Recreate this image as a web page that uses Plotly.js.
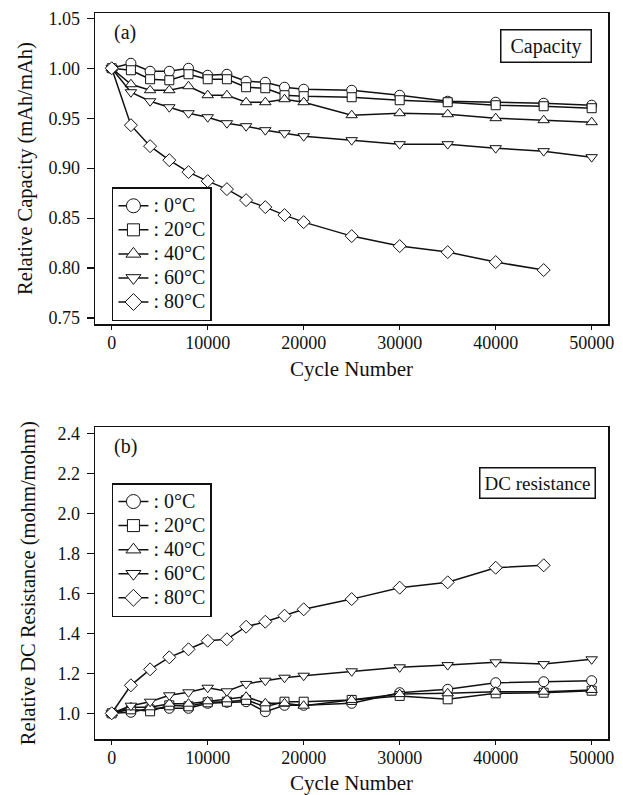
<!DOCTYPE html>
<html>
<head>
<meta charset="utf-8">
<script src="https://cdn.plot.ly/plotly-3.0.1.min.js"></script>
<style>html,body{margin:0;padding:0;background:#fff;}#chart{width:623px;height:795px;}</style>
</head>
<body>
<div id="chart"></div>
<script>
// ---- data ----
const cycles = [0,2000,4000,6000,8000,10000,12000,14000,16000,18000,20000,25000,30000,35000,40000,45000,50000];
const seriesNames = [': 0°C', ': 20°C', ': 40°C', ': 60°C', ': 80°C'];
const symbols = ['circle', 'square', 'triangle-up', 'triangle-down', 'diamond'];

// (a) relative capacity
const cap0  = [1.000,1.005,0.997,0.997,1.000,0.993,0.994,0.987,0.986,0.981,0.979,0.978,0.973,0.967,0.966,0.965,0.963];
const cap20 = [1.000,0.998,0.989,0.988,0.994,0.989,0.989,0.981,0.980,0.973,0.972,0.971,0.968,0.966,0.963,0.962,0.960];
const cap40 = [1.000,0.984,0.978,0.978,0.982,0.973,0.973,0.966,0.966,0.969,0.966,0.953,0.955,0.954,0.950,0.948,0.946];
const cap60 = [1.000,0.976,0.967,0.961,0.955,0.951,0.945,0.942,0.938,0.935,0.932,0.928,0.924,0.924,0.920,0.917,0.911];
const cap80 = [1.000,0.943,0.922,0.908,0.896,0.887,0.879,0.868,0.861,0.853,0.846,0.832,0.822,0.816,0.806,0.798];

// (b) relative DC resistance
const res0  = [1.000,1.005,1.025,1.025,1.025,1.050,1.055,1.058,1.008,1.040,1.040,1.050,1.103,1.120,1.153,1.158,1.163];
const res20 = [1.000,1.020,1.010,1.040,1.035,1.055,1.058,1.067,1.033,1.058,1.058,1.067,1.087,1.070,1.100,1.103,1.113];
const res40 = [1.000,1.030,1.030,1.048,1.048,1.060,1.070,1.083,1.050,1.050,1.038,1.067,1.096,1.100,1.108,1.108,1.117];
const res60 = [1.000,1.038,1.058,1.090,1.105,1.128,1.110,1.147,1.163,1.178,1.188,1.210,1.230,1.241,1.255,1.246,1.270];
const res80 = [1.000,1.140,1.220,1.280,1.320,1.363,1.370,1.433,1.458,1.488,1.520,1.571,1.628,1.655,1.728,1.740];

const xTicks = [0,10000,20000,30000,40000,50000];

// ---- styling ----
const FONT = 'Liberation Serif, Times New Roman, serif';
const markerSizes = [10, 9, 10, 10, 10];
const legendSizes = [14, 12, 13, 13, 13];

const capSeries = [cap0, cap20, cap40, cap60, cap80];
const resSeries = [res0, res20, res40, res60, res80];

const traces = [];
function addPanel(series, xa, ya, legendId) {
  series.forEach((vals, i) => {
    traces.push({
      x: cycles.slice(0, vals.length), y: vals, xaxis: xa, yaxis: ya,
      mode: 'lines+markers', type: 'scatter', showlegend: false,
      line: {color: '#111', width: 1.5},
      marker: {symbol: symbols[i], size: markerSizes[i], color: '#fff', line: {color: '#111', width: 1}}
    });
  });
  // legend entries (larger legend symbols)
  series.forEach((vals, i) => {
    traces.push({
      x: [null], y: [null], xaxis: xa, yaxis: ya,
      name: '<span style="font-size:20px">' + seriesNames[i] + '</span>',
      mode: 'lines+markers', type: 'scatter', showlegend: true, legend: legendId,
      line: {color: '#111', width: 1.5},
      marker: {symbol: symbols[i], size: legendSizes[i], color: '#fff', line: {color: '#111', width: 1}}
    });
  });
}
addPanel(capSeries, 'x', 'y', 'legend');
addPanel(resSeries, 'x2', 'y2', 'legend2');

const xRange = [-1740, 51700];
const topDom = [0.5716, 1];
const botDom = [0, 0.4293];

function xAxis(anchor) {
  return {
    anchor: anchor, domain: [0, 1], range: xRange, tickvals: xTicks, ticktext: xTicks.map(String),
    ticks: 'outside', ticklen: 4, tickwidth: 1.2, tickcolor: '#111',
    showline: true, linecolor: '#111', linewidth: 1.5, mirror: true,
    showgrid: false, zeroline: false,
    tickfont: {family: FONT, size: 18, color: '#111'}, ticklabelstandoff: -2,
    title: {text: 'Cycle Number', font: {family: FONT, size: 21, color: '#111'}, standoff: 9}
  };
}
function innerX(over, anchor) {
  return {overlaying: over, anchor: anchor, range: xRange, tickvals: xTicks, ticks: 'inside', ticklen: 5,
    tickwidth: 1.2, tickcolor: '#111', showticklabels: false, showline: false, showgrid: false, zeroline: false};
}
function innerY(over, anchor, range, dtick, tick0) {
  return {overlaying: over, anchor: anchor, side: 'left', range: range, dtick: dtick, tick0: tick0, ticks: 'inside', ticklen: 4,
    tickwidth: 1.2, tickcolor: '#111', showticklabels: false, showline: false, showgrid: false, zeroline: false};
}

const capRange = [0.744, 1.0553];
const resRange = [0.8715, 2.43];

const legendBase = {
  xanchor: 'left', yanchor: 'top', xref: 'paper', yref: 'paper',
  bgcolor: '#fff', bordercolor: '#111', borderwidth: 1.5,
  font: {family: FONT, size: 16.2, color: '#111'}, tracegroupgap: 0, itemwidth: 30
};

const layout = {
  width: 623, height: 795,
  margin: {l: 95, r: 15, t: 13, b: 56},
  paper_bgcolor: '#fff', plot_bgcolor: '#fff',
  font: {family: FONT, color: '#111'},
  xaxis: xAxis('y'),
  xaxis2: xAxis('y2'),
  xaxis3: innerX('x', 'y'),
  xaxis4: innerX('x2', 'y2'),
  yaxis: {
    domain: topDom, anchor: 'x', range: capRange, dtick: 0.05, tick0: 0.75, tickformat: '.2f',
    ticks: 'outside', ticklen: 7, tickwidth: 1.2, tickcolor: '#111',
    showline: true, linecolor: '#111', linewidth: 1.5, mirror: true, showgrid: false, zeroline: false,
    tickfont: {family: FONT, size: 18, color: '#111'}, ticklabelstandoff: 3,
    title: {text: 'Relative Capacity (mAh/mAh)', font: {family: FONT, size: 20.5, color: '#111'}, standoff: 10}
  },
  yaxis2: {
    domain: botDom, anchor: 'x2', range: resRange, dtick: 0.2, tick0: 1.0, tickformat: '.1f',
    ticks: 'outside', ticklen: 7, tickwidth: 1.2, tickcolor: '#111',
    showline: true, linecolor: '#111', linewidth: 1.5, mirror: true, showgrid: false, zeroline: false,
    tickfont: {family: FONT, size: 18, color: '#111'}, ticklabelstandoff: 3,
    title: {text: 'Relative DC Resistance (mohm/mohm)', font: {family: FONT, size: 20.5, color: '#111'}, standoff: 16}
  },
  yaxis3: innerY('y', 'x', capRange, 0.05, 0.75),
  yaxis4: innerY('y2', 'x2', resRange, 0.2, 1.0),
  legend: Object.assign({x: 0.033, y: 0.760}, legendBase),
  legend2: Object.assign({x: 0.033, y: 0.3526}, legendBase),
  annotations: [
    {text: '(a)', xref: 'x domain', yref: 'y domain', x: 0.0585, y: 0.9357, xanchor: 'center', yanchor: 'middle',
     showarrow: false, font: {family: FONT, size: 20, color: '#111'}},
    {text: '(b)', xref: 'x2 domain', yref: 'y2 domain', x: 0.0585, y: 0.939, xanchor: 'center', yanchor: 'middle',
     showarrow: false, font: {family: FONT, size: 20, color: '#111'}},
    {text: ' Capacity ', xref: 'x domain', yref: 'y domain', x: 0.879, y: 0.894, xanchor: 'center', yanchor: 'middle',
     showarrow: false, font: {family: FONT, size: 20, color: '#111'}, bordercolor: '#111', borderwidth: 1.5, borderpad: 4, bgcolor: '#fff'},
    {text: 'DC resistance', xref: 'x2 domain', yref: 'y2 domain', x: 0.862, y: 0.821, xanchor: 'center', yanchor: 'middle',
     showarrow: false, font: {family: FONT, size: 19, color: '#111'}, bordercolor: '#111', borderwidth: 1.5, borderpad: 4, bgcolor: '#fff'}
  ],
  showlegend: true
};

Plotly.newPlot('chart', traces, layout, {staticPlot: true, displayModeBar: false});
</script>
</body>
</html>
